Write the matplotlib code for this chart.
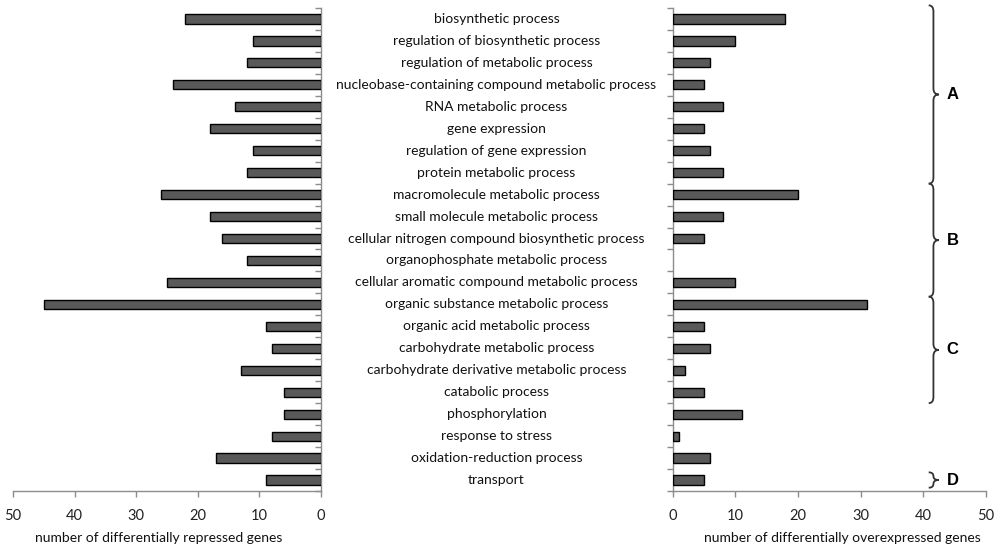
import matplotlib
matplotlib.use("Agg")
import matplotlib.pyplot as plt
import matplotlib.transforms as mtransforms
from matplotlib.path import Path
from matplotlib.patches import PathPatch
from matplotlib.ticker import FixedLocator, NullLocator
import numpy as np

plt.rcParams['font.family'] = ['Lato', 'DejaVu Sans']

categories = [
    "biosynthetic process",
    "regulation of biosynthetic process",
    "regulation of metabolic process",
    "nucleobase-containing compound metabolic process",
    "RNA metabolic process",
    "gene expression",
    "regulation of gene expression",
    "protein metabolic process",
    "macromolecule metabolic process",
    "small molecule metabolic process",
    "cellular nitrogen compound biosynthetic process",
    "organophosphate metabolic process",
    "cellular aromatic compound metabolic process",
    "organic substance metabolic process",
    "organic acid metabolic process",
    "carbohydrate metabolic process",
    "carbohydrate derivative metabolic process",
    "catabolic process",
    "phosphorylation",
    "response to stress",
    "oxidation-reduction process",
    "transport",
]
repressed = [22, 11, 12, 24, 14, 18, 11, 12, 26, 18, 16, 12, 25, 45, 9, 8, 13, 6, 6, 8, 17, 9]
overexpressed = [18, 10, 6, 5, 8, 5, 6, 8, 20, 8, 5, 0, 10, 31, 5, 6, 2, 5, 11, 1, 6, 5]
x_ticks = [0, 10, 20, 30, 40, 50]
groups = ["A", "B", "C", "D"]
group_spans = [(-0.62, 7.5), (7.5, 12.65), (12.65, 17.5), (20.65, 21.35)]

W, H = 1000, 553
fig = plt.figure(figsize=(10, 5.53), dpi=100)
fig.patch.set_facecolor('white')

def fx(px):
    return px / W

def fy(py):
    return 1 - py / H

top, bottom = 8, 491
axL = fig.add_axes([fx(13), fy(bottom), fx(321) - fx(13), fy(top) - fy(bottom)])
axR = fig.add_axes([fx(672.7), fy(bottom), fx(985.7) - fx(672.7), fy(top) - fy(bottom)])

y = np.arange(len(categories))
bar_color = '#595959'
spine_color = '#8c8c8c'
tick_color = '#222222'

def lw_for(vals):
    return [1.0 if v > 0 else 0.0 for v in vals]

axL.barh(y, repressed, height=0.42, color=bar_color, edgecolor='black',
         linewidth=lw_for(repressed), zorder=3)
axR.barh(y, overexpressed, height=0.42, color=bar_color, edgecolor='black',
         linewidth=lw_for(overexpressed), zorder=3)

for ax in (axL, axR):
    ax.set_ylim(len(categories) - 0.5, -0.5)
    ax.set_xlim(0, 50)
    ax.set_xticks(x_ticks)
    ax.set_xticklabels([str(t) for t in x_ticks], fontsize=10.5, color=tick_color)
    ax.yaxis.set_major_locator(NullLocator())
    ax.yaxis.set_minor_locator(FixedLocator(np.arange(-0.5, len(categories), 1.0)))
    ax.spines['top'].set_visible(False)
    for s in ('left', 'right', 'bottom'):
        ax.spines[s].set_color(spine_color)
        ax.spines[s].set_linewidth(1.0)
    ax.tick_params(axis='x', which='major', direction='out', length=4, width=1.0,
                   color=spine_color, pad=9)
    ax.set_facecolor('none')

axL.invert_xaxis()
axL.spines['left'].set_visible(False)
axL.yaxis.tick_right()
axL.tick_params(axis='y', which='minor', direction='in', length=4, width=1.0, color=spine_color,
                left=False, right=True)
axR.spines['right'].set_visible(False)
axR.tick_params(axis='y', which='minor', direction='out', length=4, width=1.0, color=spine_color,
                left=True, right=False)

# category labels in the middle
trans = mtransforms.blended_transform_factory(fig.transFigure, axR.transData)
for i, c in enumerate(categories):
    fig.text(fx(496.5), i, c, transform=trans, ha='center', va='center',
             fontsize=10, color='#111111')

# axis titles
fig.text(fx(159), fy(538), "number of differentially repressed genes", ha='center', va='center',
         fontsize=10, color='#111111')
fig.text(fx(842), fy(538), "number of differentially overexpressed genes", ha='center', va='center',
         fontsize=10, color='#111111')

# braces in right axes data coords
def brace(ax, y0, y1, xl, xm, xt, r):
    ymid = (y0 + y1) / 2
    r = min(r, (y1 - y0) / 4)
    verts = [(xl, y0), (xm, y0), (xm, y0 + r),
             (xm, ymid - r),
             (xm, ymid), (xt, ymid),
             (xm, ymid), (xm, ymid + r),
             (xm, y1 - r),
             (xm, y1), (xl, y1)]
    codes = [Path.MOVETO, Path.CURVE3, Path.CURVE3,
             Path.LINETO,
             Path.CURVE3, Path.CURVE3,
             Path.CURVE3, Path.CURVE3,
             Path.LINETO,
             Path.CURVE3, Path.CURVE3]
    p = PathPatch(Path(verts, codes), facecolor='none', edgecolor='#333333', linewidth=1.3,
                  clip_on=False, zorder=5)
    ax.add_patch(p)
    return ymid

for g, (y0, y1) in zip(groups, group_spans):
    ym = brace(axR, y0, y1, 40.9, 41.65, 42.5, 0.28)
    axR.text(44.7, ym, g, ha='center', va='center', fontsize=12, fontweight='bold',
             family=['Liberation Sans', 'DejaVu Sans'], color='black', clip_on=False)

fig.savefig('out.png', dpi=100, facecolor='white')
